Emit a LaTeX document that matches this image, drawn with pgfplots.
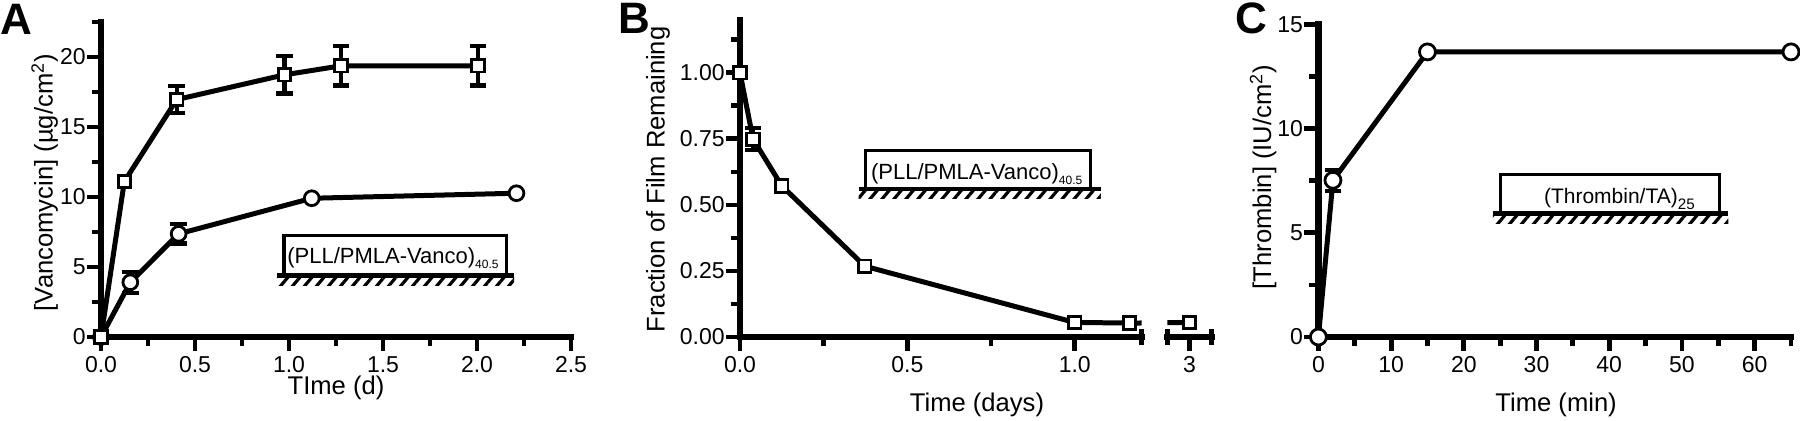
\documentclass[border=0pt]{standalone}
\usepackage{fontspec}
\setmainfont{Liberation Sans}
\usepackage{pgfplots}
\pgfplotsset{compat=1.18}
\usetikzlibrary{patterns.meta}

\tikzset{hatch/.style={pattern={Lines[angle=50,distance=4.6pt,line width=1.6pt]}}}

\pgfplotsset{
  gp/.style={
    scale only axis,
    anchor=south west,
    axis x line*=bottom, axis y line*=left,
    axis line style={line width=3.1pt, line cap=rect, black},
    tick align=outside,
    major tick length=7pt, minor tick length=4.6pt,
    tick style={line width=2.4pt, black},
    tick label style={font=\fontsize{11.5}{13}\selectfont},
    /pgf/number format/assume math mode=true,
    xticklabel style={inner ysep=2.5pt},
    yticklabel style={inner xsep=0.5pt},
    label style={font=\fontsize{12.8}{15}\selectfont},
    clip mode=individual,
  },
  pline/.style={black, line width=2.5pt, mark=none, line join=round},
  errs/.style={only marks, mark=none, forget plot,
    error bars/.cd, y dir=both, y explicit, error mark=|,
    error bar style={draw=black, line width=2.2pt},
    error mark options={draw=black, line width=2.2pt, mark size=4.2pt}},
  sqm/.style={only marks, mark=square*, mark size=3.1pt,
    mark options={fill=white, draw=black, line width=1.4pt, solid}},
  cim/.style={only marks, mark=*, mark size=#1,
    mark options={fill=white, draw=black, line width=1.4pt, solid}},
  cim/.default=3.7pt,
}

\begin{document}
\begin{tikzpicture}
\path[use as bounding box] (0,0) rectangle (900pt,210pt);

% panel letters
\node[font=\fontsize{22}{24}\selectfont\bfseries, inner sep=0] at (8.25pt,200.5pt) {A};
\node[font=\fontsize{22}{24}\selectfont\bfseries, inner sep=0] at (317pt,200.75pt) {B};
\node[font=\fontsize{22}{24}\selectfont\bfseries, inner sep=0] at (625.5pt,200.75pt) {C};

% ---------------- A ----------------
\begin{axis}[gp,
  at={(50.5pt,41.5pt)}, width=235pt, height=157.5pt,
  xmin=0, xmax=2.5, ymin=0, ymax=22.5,
  xtick={0,0.5,1,1.5,2,2.5}, minor xtick={0.25,0.75,1.25,1.75,2.25},
  ytick={0,5,10,15,20}, minor ytick={2.5,7.5,12.5,17.5,22.5},
  xticklabel style={/pgf/number format/.cd, fixed, fixed zerofill, precision=1},
  xlabel={TIme (d)},
  xlabel style={at={(axis description cs:0.5,-0.163)}, anchor=center},
  ylabel={[Vancomycin] (µg/cm\textsuperscript{2})},
  ylabel style={at={(axis description cs:-0.120,0.49)}, anchor=center},
]
\addplot[pline] coordinates {(0,0) (0.124,11.1) (0.403,16.96) (0.977,18.73) (1.277,19.37) (2.005,19.37)};
\addplot[pline] coordinates {(0,0) (0.156,3.91) (0.413,7.37) (1.121,9.91) (2.21,10.27)};
\addplot[errs] coordinates {(0.403,16.96) +- (0,0.95) (0.977,18.73) +- (0,1.33) (1.277,19.37) +- (0,1.4) (2.005,19.37) +- (0,1.4)};
\addplot[errs] coordinates {(0.156,3.91) +- (0,0.75) (0.413,7.37) +- (0,0.7)};
\addplot[cim] coordinates {(0,0) (0.156,3.91) (0.413,7.37) (1.121,9.91) (2.21,10.27)};
\addplot[sqm] coordinates {(0,0) (0.124,11.1) (0.403,16.96) (0.977,18.73) (1.277,19.37) (2.005,19.37)};
% inset
\draw[line width=1.6pt] (axis cs:0.973,4.39) |- (axis cs:2.156,7.25) -- (axis cs:2.156,4.39);
\draw[line width=2.2pt] (axis cs:0.935,4.39) -- (axis cs:2.198,4.39);
\fill[hatch] ([yshift=-1pt]axis cs:0.935,4.39) rectangle ([yshift=-5pt]axis cs:2.198,4.39);
\node[anchor=base, font=\fontsize{11}{13}\selectfont, inner sep=0] at (axis cs:1.553,5.23) {(PLL/PMLA-Vanco)\raisebox{-2.5pt}{\fontsize{6}{7}\selectfont 40.5}};
\end{axis}

% ---------------- B (left part) ----------------
\begin{axis}[gp,
  at={(370pt,41.5pt)}, width=200.85pt, height=158.5pt,
  xmin=0, xmax=1.2, ymin=0, ymax=1.2,
  xtick={0,0.5,1}, minor xtick={0.25,0.75},
  extra x ticks={1.2}, extra x tick labels={},
  extra x tick style={tick align=center, major tick length=8pt},
  ytick={0,0.25,0.5,0.75,1}, minor ytick={0.125,0.375,0.625,0.875,1.125},
  xticklabel style={/pgf/number format/.cd, fixed, fixed zerofill, precision=1},
  yticklabel style={/pgf/number format/.cd, fixed, fixed zerofill, precision=2},
  xlabel={Time (days)},
  xlabel style={at={(axis description cs:0.59,-0.213)}, anchor=center},
  ylabel={Fraction of Film Remaining},
  ylabel style={at={(axis description cs:-0.204,0.497)}, anchor=center},
]
\addplot[pline] coordinates {(0,1) (0.039,0.749) (0.125,0.572) (0.373,0.268) (1.0,0.055) (1.163,0.053) (3,0.055)};
\addplot[errs] coordinates {(0.039,0.749) +- (0,0.042)};
\addplot[sqm] coordinates {(0,1) (0.039,0.749) (0.125,0.572) (0.373,0.268) (1.0,0.055) (1.163,0.053)};
% inset
\draw[line width=1.6pt] (axis cs:0.375,0.561) |- (axis cs:1.048,0.707) -- (axis cs:1.048,0.561);
\draw[line width=2.2pt] (axis cs:0.354,0.561) -- (axis cs:1.078,0.561);
\fill[hatch] ([yshift=-1pt]axis cs:0.354,0.561) rectangle ([yshift=-5pt]axis cs:1.078,0.561);
\node[anchor=base, font=\fontsize{11}{13}\selectfont, inner sep=0] at (axis cs:0.707,0.596) {(PLL/PMLA-Vanco)\raisebox{-2.5pt}{\fontsize{6}{7}\selectfont 40.5}};
\end{axis}

% ---------------- B (right part, after break) ----------------
\begin{axis}[gp,
  at={(583.65pt,41.5pt)}, width=22.2pt, height=158.5pt,
  xmin=2.5, xmax=3.5, ymin=0, ymax=1.2,
  axis y line=none,
  xtick={3}, minor xtick={},
  extra x ticks={2.5,3.5}, extra x tick labels={},
  extra x tick style={tick align=center, major tick length=8pt},
]
\addplot[pline] coordinates {(1.163,0.053) (3,0.055)};
\addplot[sqm] coordinates {(3,0.055)};
\end{axis}

% ---------------- C ----------------
\begin{axis}[gp,
  at={(659.2pt,41.5pt)}, width=236.3pt, height=156.3pt,
  xmin=0, xmax=65, ymin=0, ymax=15,
  xtick={0,10,20,30,40,50,60}, minor xtick={5,15,25,35,45,55,65},
  ytick={0,5,10,15}, minor ytick={2.5,7.5,12.5},
  xlabel={Time (min)},
  xlabel style={at={(axis description cs:0.503,-0.218)}, anchor=center},
  ylabel={[Thrombin] (IU/cm\textsuperscript{2})},
  ylabel style={at={(axis description cs:-0.117,0.512)}, anchor=center},
]
\addplot[pline] coordinates {(0,0) (2,7.52) (15,13.68) (65,13.68)};
\addplot[errs] coordinates {(2,7.52) +- (0,0.5)};
\addplot[cim=4pt] coordinates {(0,0) (2,7.52) (15,13.68) (65,13.68)};
% inset
\draw[line width=1.6pt] (axis cs:25,5.92) |- (axis cs:55.2,7.81) -- (axis cs:55.2,5.92);
\draw[line width=2.2pt] (axis cs:24,5.92) -- (axis cs:56.4,5.92);
\fill[hatch] ([yshift=-1pt]axis cs:24,5.92) rectangle ([yshift=-5pt]axis cs:56.4,5.92);
\node[anchor=base, font=\fontsize{10.5}{12}\selectfont, inner sep=0] at (axis cs:41.4,6.40) {(Thrombin/TA)\raisebox{-3pt}{\fontsize{7.6}{9}\selectfont 25}};
\end{axis}
\end{tikzpicture}
\end{document}
